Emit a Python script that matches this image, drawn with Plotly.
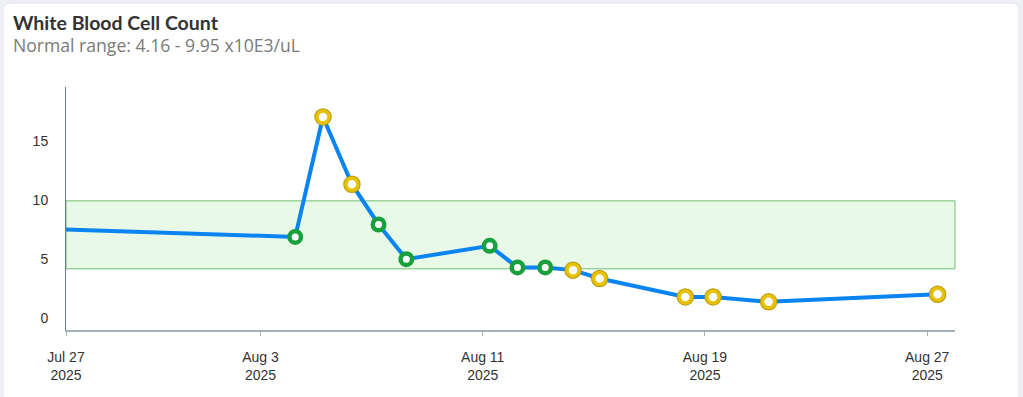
import plotly.graph_objects as go
import pandas as pd

# ---- data ----
dates = ["2025-07-21 06:00", "2025-08-04 06:00", "2025-08-05 06:00", "2025-08-06 07:00",
         "2025-08-07 06:00", "2025-08-08 06:00", "2025-08-11 06:00", "2025-08-12 06:00",
         "2025-08-13 06:00", "2025-08-14 06:00", "2025-08-15 05:00", "2025-08-18 07:00",
         "2025-08-19 07:00", "2025-08-21 07:00", "2025-08-27 09:00"]
values = [7.95, 6.88, 17.1, 11.37, 7.94, 4.98, 6.12, 4.28, 4.28, 4.05, 3.34, 1.77, 1.77, 1.35, 2.0]
normal_low = 4.16
normal_high = 9.95
tick_dates = ["2025-07-27", "2025-08-03", "2025-08-11", "2025-08-19", "2025-08-27"]
tick_text = ["Jul 27<br>2025", "Aug 3<br>2025", "Aug 11<br>2025", "Aug 19<br>2025", "Aug 27<br>2025"]
x_range = ["2025-07-27", "2025-08-28"]
y_range = [-1.05, 19.65]

W, H = 1023, 397
L, R, T, B = 66, 68, 87, 67
pw, ph = W - L - R, H - T - B


def px_x(p):
    return (p - L) / pw


def px_y(p):
    return (H - B - p) / ph


df = pd.DataFrame({"date": pd.to_datetime(dates), "value": values})
df["normal"] = (df["value"] >= normal_low) & (df["value"] <= normal_high)
ok = df[df["normal"]]
bad = df[~df["normal"]]

fig = go.Figure()
fig.add_trace(go.Scatter(x=df["date"], y=df["value"], mode="lines",
                         line=dict(color="#0a84f0", width=4), hoverinfo="skip"))
fig.add_trace(go.Scatter(x=ok["date"], y=ok["value"], mode="markers",
                         marker=dict(size=11.5, color="white", line=dict(color="#18a03c", width=4.5))))
fig.add_trace(go.Scatter(x=bad["date"], y=bad["value"], mode="markers",
                         marker=dict(size=12, color="white", line=dict(color="#b59a10", width=5.5))))
fig.add_trace(go.Scatter(x=bad["date"], y=bad["value"], mode="markers",
                         marker=dict(size=12, color="white", line=dict(color="#e8c100", width=3.5))))

# card background with rounded corners
x0, x1 = px_x(3), px_x(1019)
y0, y1 = px_y(402), px_y(3)
rx, ry = 8 / pw, 8 / ph
path = (f"M {x0+rx},{y1} L {x1-rx},{y1} Q {x1},{y1} {x1},{y1-ry} L {x1},{y0} "
        f"L {x0},{y0} L {x0},{y1-ry} Q {x0},{y1} {x0+rx},{y1} Z")
fig.add_shape(type="path", path=path, xref="paper", yref="paper", fillcolor="white",
              line=dict(color="#e3e6ea", width=1), layer="below")
# normal range band
fig.add_shape(type="rect", xref="paper", x0=0, x1=1, yref="y", y0=normal_low, y1=normal_high,
              fillcolor="#e9f9e7", line=dict(color="#6cbf72", width=1), layer="below")

fig.add_annotation(text="<b>White Blood Cell Count</b>", xref="paper", yref="paper",
                   x=px_x(11), y=px_y(22), xanchor="left", yanchor="middle", showarrow=False,
                   font=dict(family="Lato, sans-serif", size=19.5, color="#333333"))
fig.add_annotation(text="Normal range: 4.16 - 9.95 x10E3/uL", xref="paper", yref="paper",
                   x=px_x(11), y=px_y(45), xanchor="left", yanchor="middle", showarrow=False,
                   font=dict(family="Open Sans, sans-serif", size=17.6, color="#7a7a7a"))

fig.update_layout(
    width=W, height=H, margin=dict(l=L, r=R, t=T, b=B),
    paper_bgcolor="#eef0f3", plot_bgcolor="rgba(0,0,0,0)",
    showlegend=False,
    font=dict(family="Liberation Sans, Arial, sans-serif", size=14, color="#333333"),
)
fig.update_xaxes(range=x_range, tickvals=pd.to_datetime(tick_dates), ticktext=tick_text,
                 showgrid=False, zeroline=False, showline=True, linecolor="#a3b1bb", linewidth=2,
                 ticks="outside", ticklen=4, tickcolor="#a3b1bb", tickwidth=1,
                 ticklabelstandoff=9, tickfont=dict(size=14, color="#333333"))
fig.update_yaxes(range=y_range, tickvals=[0, 5, 10, 15], showgrid=False, zeroline=False,
                 showline=True, linecolor="#5f7d8c", linewidth=1, ticks="",
                 ticklabelstandoff=14, tickfont=dict(size=14, color="#333333"))

fig.write_html("out.html", config={"displayModeBar": False},
               post_script="document.body.style.margin='0';")
